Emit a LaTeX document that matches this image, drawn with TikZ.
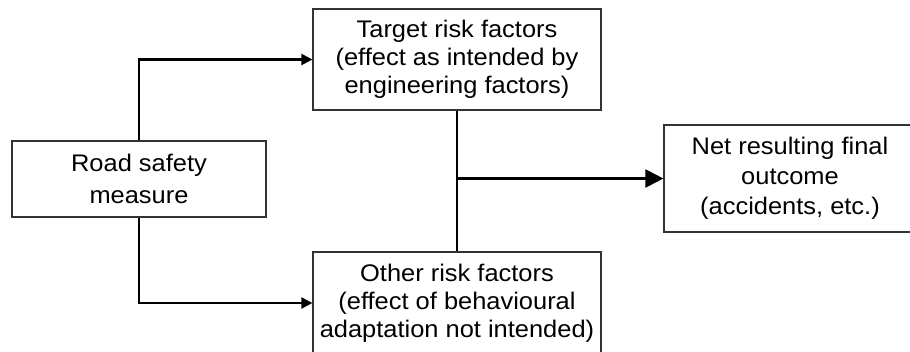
\documentclass[tikz,border=0pt]{standalone}
\usepackage{fontspec}
\setmainfont[FakeStretch=1.06]{Liberation Sans}
\usetikzlibrary{arrows.meta}
\begin{document}
\begin{tikzpicture}[x=1pt,y=-1pt,
  box/.style={draw=black!80,line width=1.2pt,fill=white,inner sep=0pt,align=center,
    font=\fontsize{24}{28}\selectfont},
  link/.style={line width=2.2pt,black},
  arrow/.style={link,-{Triangle[length=11pt,width=11pt]}},
  bigarrow/.style={link,-{Triangle[length=18pt,width=18pt]}}]
\useasboundingbox (0,0) rectangle (910,351);
\clip (0,0) rectangle (910,351);
\fill[white] (0,0) rectangle (910,351);

\node[box,minimum width=254pt,minimum height=76pt,
  font=\fontsize{24}{32}\selectfont] (road) at (139,179)
  {Road safety\\measure};
\node[box,minimum width=288pt,minimum height=101pt] (target) at (457,59.5)
  {Target risk factors\\(effect as intended by\\engineering factors)};
\node[box,minimum width=288pt,minimum height=102pt] (other) at (457,303)
  {Other risk factors\\(effect of behavioural\\adaptation not intended)};
\node[box,minimum width=252pt,minimum height=107pt,
  font=\fontsize{24}{30}\selectfont] (net) at (790,178.5)
  {Net resulting final\\outcome\\(accidents, etc.)};

\draw[arrow] (road.north) |- (target.west);
\draw[arrow] (road.south) |- (other.west);
\draw[link] (target.south) -- (other.north);
\coordinate (join) at (target.south |- net.west);
\draw[bigarrow] (join) -- (net.west);
\end{tikzpicture}
\end{document}
